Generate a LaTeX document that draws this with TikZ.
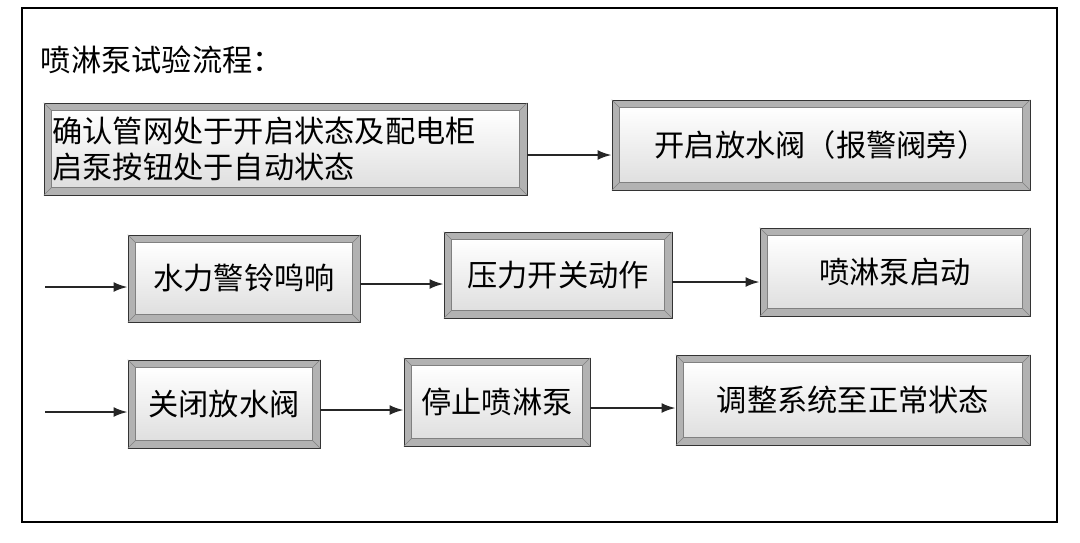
\documentclass[tikz,border=0pt]{standalone}
\usepackage{fontspec}
\setmainfont{Noto Sans CJK SC}
\usetikzlibrary{fit,calc,arrows.meta}
\newcommand{\bevbox}[7][center]{%
  \node[fit={(#3,#4)(#5,#6)},inner sep=0pt,draw=black!80,fill=gray!60] (#2) {};
  \fill[top color=white,bottom color=gray!25] ($(#2.north west)+(8,8)$) rectangle ($(#2.south east)+(-8,-8)$);
  \draw[black!50] (#2.north west)--++(8,8) (#2.north east)--++(-8,8) (#2.south west)--++(8,-8) (#2.south east)--++(-8,-8);
  \draw[black!50] ($(#2.north west)+(8,8)$) rectangle ($(#2.south east)+(-8,-8)$);
  \node[font=\fontsize{21.5}{25}\selectfont,align=left,anchor=#1,inner xsep=6pt] at (#2.#1) {#7};}
\tikzset{arr/.style={-{Latex[length=10pt,width=7pt]},line width=1.6pt,black!85}}
\begin{document}
\begin{tikzpicture}[x=0.025cm,y=-0.025cm]
\useasboundingbox (0,0) rectangle (1080,542);
\fill[white] (0,0) rectangle (1080,542);
\draw[line width=1.2pt] (22,8) rectangle (1057,522);
\node[anchor=west,font=\fontsize{21.5}{25}\selectfont] (t) at (36,60) {喷淋泵试验流程：};
\bevbox[west]{b1}{44}{103}{527}{195}{确认管网处于开启状态及配电柜\\启泵按钮处于自动状态}
\bevbox{b2}{612}{100}{1030}{190}{开启放水阀（报警阀旁）}
\bevbox{b3}{128}{235}{360}{322}{水力警铃鸣响}
\bevbox{b4}{444}{232}{672}{318}{压力开关动作}
\bevbox{b5}{760}{228}{1030}{316}{喷淋泵启动}
\bevbox{b6}{128}{360}{320}{448}{关闭放水阀}
\bevbox{b7}{404}{358}{590}{446}{停止喷淋泵}
\bevbox{b8}{676}{355}{1030}{445}{调整系统至正常状态}
\coordinate (s1) at (45,287);
\coordinate (s2) at (45,412);
\draw[arr] (b1.east|-0,155) -- (b2.west|-0,155);
\draw[arr] (s1) -- (b3.west|-s1);
\draw[arr] (b3.east|-0,284) -- (b4.west|-0,284);
\draw[arr] (b4.east|-0,282) -- (b5.west|-0,282);
\draw[arr] (s2) -- (b6.west|-s2);
\draw[arr] (b6.east|-0,410) -- (b7.west|-0,410);
\draw[arr] (b7.east|-0,408) -- (b8.west|-0,408);
\end{tikzpicture}
\end{document}
